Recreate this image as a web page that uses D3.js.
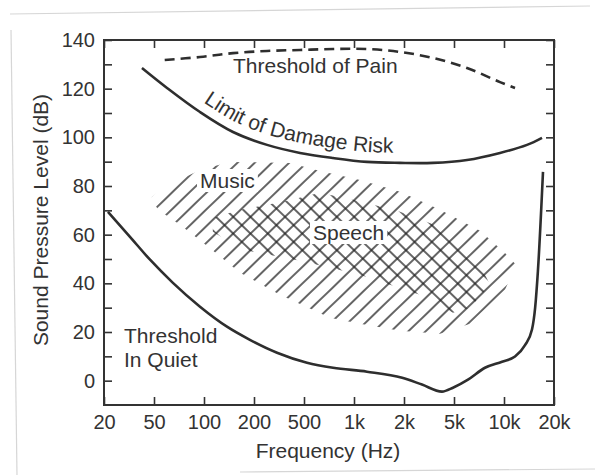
<!DOCTYPE html>
<html>
<head>
<meta charset="utf-8">
<script src="https://cdn.jsdelivr.net/npm/d3@7"></script>
<style>
    body { margin: 0; background: #fff; }
    svg { display: block; font-family: "Liberation Sans", Arial, Helvetica, sans-serif; }
    .axis text { font-size: 20px; fill: #333; }
    .axis line { stroke: #333; stroke-width: 1.6; }
    .label { font-size: 21px; fill: #333; }
</style>
</head>
<body>
<div id="chart"></div>
<script>
// frequency ticks are drawn one equal step apart (1-2-5 steps)
const freqTicks = [20, 50, 100, 200, 500, 1000, 2000, 5000, 10000, 20000];
const freqLabels = ['20', '50', '100', '200', '500', '1k', '2k', '5k', '10k', '20k'];
const dbTicks = [0, 10, 20, 30, 40, 50, 60, 70, 80, 90, 100, 110, 120, 130, 140];

// threshold in quiet
const quietHz = [21.5, 32.2, 46.5, 65, 94.6, 137.5, 189, 305, 521, 748, 1197, 1950, 2780, 4010, 4910, 6070, 7680, 9730, 11650, 13380, 14740, 15400, 16000, 17170];
const quietDb = [69.4, 59.1, 49.7, 40.2, 30.4, 22.2, 16.8, 11.5, 7.4, 5.3, 3.7, 1.2, -1.6, -4.5, -2.9, 0.4, 5.3, 7.8, 9.9, 14.6, 21, 30, 45, 85.8];

// limit of damage risk
const damageHz = [40.1, 59.9, 94.6, 149.5, 254, 465, 748, 1197, 1892, 3400, 5990, 9460, 13760, 16940];
const damageDb = [128.5, 120.3, 110.4, 102.2, 96.9, 93.6, 91.5, 89.9, 89.5, 89.5, 90.7, 93.6, 96.9, 99.8];

// threshold of pain
const painHz = [58, 94.6, 149.5, 254, 465, 748, 1197, 1892, 3400, 5990, 9460, 11650];
const painDb = [131.8, 133.0, 134.6, 135.5, 135.9, 136.3, 136.3, 135.1, 132.6, 128.5, 122.7, 120.3];

// music area outline
const musicHz = [48, 58, 94.6, 143, 387, 624, 1087, 1892, 3870, 7170, 10140, 11810, 10140, 6240, 3870, 1892, 1087, 717, 322, 165, 106, 72, 53, 48];
const musicDb = [75.5, 79.6, 86.6, 89.9, 89.5, 86.2, 82.5, 77.6, 70.2, 61.6, 52.5, 47.6, 37.4, 23.4, 19.3, 20.5, 23.4, 25.9, 35.3, 44.3, 55.0, 64.0, 70.2, 74.3];

// speech area outline
const speechHz = [113, 165, 340, 624, 1117, 1892, 3870, 6690, 8235, 6240, 4910, 2680, 1087, 465, 172, 113];
const speechDb = [66.9, 70.2, 73.5, 77.2, 73.5, 69.4, 63.2, 51.7, 39.4, 30.0, 27.9, 35.3, 43.5, 49.3, 53.8, 61.2];

const width = 595, height = 475;
const margin = {left: 104, right: 41, top: 40, bottom: 70};

const svg = d3.select('#chart').append('svg')
    .attr('width', width)
    .attr('height', height);

// faint scan edges
svg.append('g')
    .attr('stroke', '#d6d6d6')
    .attr('stroke-width', 1.2)
    .selectAll('line')
    .data([[10, 14, 590, 6], [11, 30, 17, 475], [240, 472, 595, 469]])
    .enter().append('line')
    .attr('x1', d => d[0]).attr('y1', d => d[1])
    .attr('x2', d => d[2]).attr('y2', d => d[3]);

// piecewise log scale so every tick is the same distance apart
let x = d3.scaleLog()
    .domain(freqTicks)
    .range(freqTicks.map((d, i) => margin.left + i * (width - margin.left - margin.right) / (freqTicks.length - 1)));

let y = d3.scaleLinear()
    .domain([-10, 140])
    .range([height - margin.bottom, margin.top]);

let defs = svg.append('defs');

function hatch(id, angle) {
    let p = defs.append('pattern')
        .attr('id', id)
        .attr('patternUnits', 'userSpaceOnUse')
        .attr('width', 12)
        .attr('height', 12)
        .attr('patternTransform', 'rotate(' + angle + ')');
    p.append('line')
        .attr('x1', -1).attr('x2', 13)
        .attr('y1', 6).attr('y2', 6)
        .attr('stroke', '#222')
        .attr('stroke-width', 1.4);
}
hatch('fwd', -44);
hatch('back', 44);

let area = d3.line()
    .x(d => x(d[0]))
    .y(d => y(d[1]))
    .curve(d3.curveLinearClosed);

svg.append('path')
    .datum(d3.zip(musicHz, musicDb))
    .attr('d', area)
    .attr('fill', 'url(#fwd)');

svg.append('path')
    .datum(d3.zip(speechHz, speechDb))
    .attr('d', area)
    .attr('fill', 'url(#back)');

let smooth = d3.line()
    .x(d => x(d[0]))
    .y(d => y(d[1]))
    .curve(d3.curveCatmullRom.alpha(0.5));

let monotone = d3.line()
    .x(d => x(d[0]))
    .y(d => y(d[1]))
    .curve(d3.curveMonotoneX);

svg.append('path')
    .datum(d3.zip(quietHz, quietDb))
    .attr('d', monotone)
    .attr('fill', 'none')
    .attr('stroke', '#2e2e2e')
    .attr('stroke-width', 2.6);

let damage = svg.append('path')
    .datum(d3.zip(damageHz, damageDb))
    .attr('d', smooth)
    .attr('fill', 'none')
    .attr('stroke', '#2e2e2e')
    .attr('stroke-width', 2.6);

svg.append('path')
    .datum(d3.zip(painHz, painDb))
    .attr('d', smooth)
    .attr('fill', 'none')
    .attr('stroke', '#2e2e2e')
    .attr('stroke-width', 2.6)
    .attr('stroke-dasharray', '10,6');

// axes, ticks point inwards
let plotW = width - margin.left - margin.right,
    plotH = height - margin.top - margin.bottom;

svg.append('g')
    .attr('class', 'axis')
    .attr('transform', 'translate(0,' + (height - margin.bottom) + ')')
    .call(d3.axisBottom(x).tickValues(freqTicks).tickFormat((d, i) => freqLabels[i])
        .tickSizeInner(-8).tickSizeOuter(0).tickPadding(10));

svg.append('g')
    .attr('class', 'axis')
    .attr('transform', 'translate(0,' + margin.top + ')')
    .call(d3.axisTop(x).tickValues(freqTicks).tickFormat('')
        .tickSizeInner(-8).tickSizeOuter(0));

svg.append('g')
    .attr('class', 'axis')
    .attr('transform', 'translate(' + margin.left + ',0)')
    .call(d3.axisLeft(y).tickValues(dbTicks).tickFormat(d => d % 20 === 0 ? d : '')
        .tickSizeInner(-8).tickSizeOuter(0).tickPadding(9));

svg.append('g')
    .attr('class', 'axis')
    .attr('transform', 'translate(' + (width - margin.right) + ',0)')
    .call(d3.axisRight(y).tickValues(dbTicks).tickFormat('')
        .tickSizeInner(-8).tickSizeOuter(0));

svg.selectAll('.axis .domain').remove();

svg.append('rect')
    .attr('x', margin.left)
    .attr('y', margin.top)
    .attr('width', plotW)
    .attr('height', plotH)
    .attr('fill', 'none')
    .attr('stroke', '#333')
    .attr('stroke-width', 2);

// axis titles
svg.append('text')
    .attr('class', 'label')
    .attr('x', margin.left + plotW / 2 - 1)
    .attr('y', 458)
    .attr('text-anchor', 'middle')
    .text('Frequency (Hz)');

svg.append('text')
    .attr('class', 'label')
    .attr('transform', 'translate(48,' + (margin.top + 180) + ') rotate(-90)')
    .attr('text-anchor', 'middle')
    .text('Sound Pressure Level (dB)');

// labels in the plot
function knockout(t, pad) {
    let b = t.node().getBBox();
    svg.insert('rect', function() { return t.node(); })
        .attr('x', b.x - pad).attr('y', b.y - pad + 3)
        .attr('width', b.width + 2 * pad).attr('height', b.height + 2 * pad - 6)
        .attr('fill', '#fff');
}

let music = svg.append('text').attr('class', 'label')
    .attr('x', 200).attr('y', 188).text('Music');
knockout(music, 3);

let speech = svg.append('text').attr('class', 'label')
    .attr('x', 313).attr('y', 240).text('Speech');
knockout(speech, 3);

svg.append('text').attr('class', 'label')
    .attr('x', 233).attr('y', 73).text('Threshold of Pain');

svg.append('text').attr('class', 'label')
    .attr('x', 124).attr('y', 343).text('Threshold');
svg.append('text').attr('class', 'label')
    .attr('x', 124).attr('y', 367).text('In Quiet');

// "Limit of Damage Risk" rides just above the curve
let node = damage.node(),
    len = node.getTotalLength(),
    offPts = [];
for (let s = 0; s <= len; s += 2) {
    let a = node.getPointAtLength(Math.max(0, s - 1)),
        b = node.getPointAtLength(Math.min(len, s + 1)),
        p = node.getPointAtLength(s),
        dx = b.x - a.x, dy = b.y - a.y, n = Math.hypot(dx, dy) || 1;
    let q = [p.x + dy / n * 10, p.y - dx / n * 10];
    if (q[0] >= 203) offPts.push(q);
}
defs.append('path')
    .attr('id', 'damagePath')
    .attr('d', d3.line()(offPts));

svg.append('text')
    .attr('class', 'label')
    .append('textPath')
    .attr('href', '#damagePath')
    .text('Limit of Damage Risk');
</script>
</body>
</html>
